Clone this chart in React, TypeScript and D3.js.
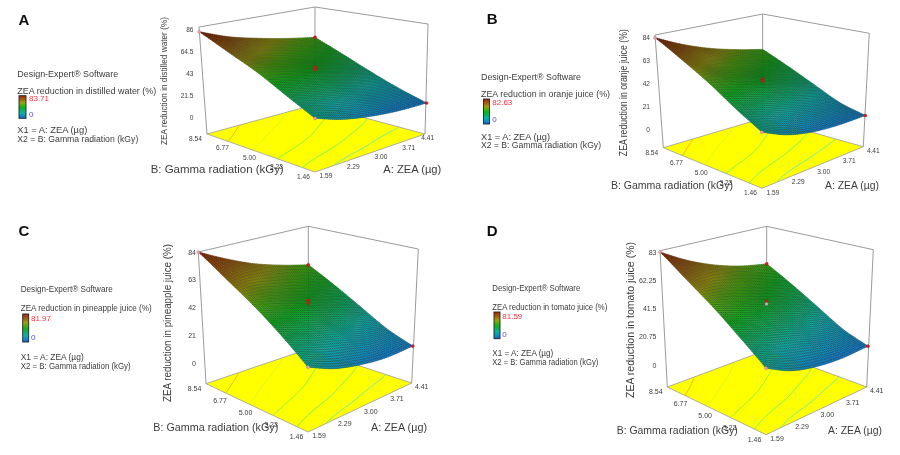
import React, { useMemo } from "react";
import * as d3 from "d3";

// ---- data ----
const aTicks = [1.59, 2.29, 3.0, 3.71, 4.41];
const bTicks = [1.46, 3.23, 5.0, 6.77, 8.54];

const zTicksA = ["0", "21.5", "43", "64.5", "86"];
const zTicksB = ["0", "21", "42", "63", "84"];
const zTicksC = ["0", "21", "42", "63", "84"];
const zTicksD = ["0", "20.75", "41.5", "62.25", "83"];

// rows: B = 1.46 ... 8.54, columns: A = 1.59 ... 4.41
const surfaceA = [
  [18, 11, 7, 5, 5],
  [33, 28, 23, 17, 13.5],
  [50, 44, 38, 31, 24],
  [66, 57, 50, 43, 36],
  [84, 72, 63, 55, 48],
];
const surfaceB = [
  [18, 10, 6, 5, 6],
  [32, 26, 21, 16, 12],
  [49, 43, 37, 30, 23],
  [66, 56, 49, 42, 35],
  [84, 72, 62, 54, 47],
];
const surfaceC = [
  [18, 11, 7, 5, 6],
  [34, 28, 23, 17, 13],
  [50, 44, 38, 31, 24],
  [66, 57, 50, 43, 36],
  [84, 73, 63, 55, 48],
];
const surfaceD = [
  [18, 10, 6, 4.5, 5.5],
  [33, 27, 22, 16, 12],
  [49, 43, 37, 30, 23],
  [65, 56, 49, 42, 35],
  [83, 71, 61, 53, 47],
];

// [A, B, response, above surface?]
const pointsA: [number, number, number, boolean][] = [
  [1.59, 8.54, 84, false], [4.41, 8.54, 48, true], [3.0, 5.0, 43, true], [3.0, 5.0, 41, true], [4.41, 1.46, 5, true], [1.59, 1.46, 18, false],
];
const pointsB: [number, number, number, boolean][] = [
  [1.59, 8.54, 84, false], [3.0, 5.0, 42, true], [3.0, 5.0, 40, true], [4.41, 1.46, 6, true], [1.59, 1.46, 18, false],
];
const pointsC: [number, number, number, boolean][] = [
  [1.59, 8.54, 84, false], [4.41, 8.54, 48, true], [3.0, 5.0, 43, true], [3.0, 5.0, 41, true], [4.41, 1.46, 6, true], [1.59, 1.46, 18, false],
];
const pointsD: [number, number, number, boolean][] = [
  [1.59, 8.54, 83, false], [4.41, 8.54, 47, true], [3.0, 5.0, 42, true], [3.0, 5.0, 40, false], [4.41, 1.46, 5.5, true], [1.59, 1.46, 18, false],
];

const contourLevels = [13, 25, 40, 55, 70];
const contourColors = ["#5fe8b8", "#62f070", "#74f050", "#d6f02a", "#f2a020"];

const designLabel = "Design-Expert® Software";
const x1Label = "X1 = A: ZEA (µg)";
const x2Label = "X2 = B: Gamma radiation (kGy)";
const aTitle = "A: ZEA (µg)";
const bTitle = "B: Gamma radiation (kGy)";

// ---- colours ----
const rampZ = [0, 10, 20, 30, 40, 50, 58, 70, 84];
const rampStops = ["#1060d0", "#1090c0", "#10b0a8", "#10b060", "#10b020", "#50b010", "#a0a010", "#a06010", "#a02808"];

// ---- panel layout (pixels) ----
type Corner = { xf: number; yf: number; x0: number; y0: number; xt: number; yt: number; bt: number; bx: number };
const corner = (xf: number, yf: number, x0: number, y0: number, xt: number, yt: number, bt: number, bx: number = xt): Corner =>
  ({ xf, yf, x0, y0, xt, yt, bt, bx });

const panels = [
  {
    letter: "A", lx: 18.5, ly: 25, grid: surfaceA, points: pointsA, zTicks: zTicksA, zMax: 86, maxLabel: "83.71",
    legendTitle: "ZEA reduction in distilled water (%)", zTitle: "ZEA reduction in distilled water (%)",
    left: corner(207, 134, 205.7, 117.3, 199, 29.7, 27),
    right: corner(425, 134, 426.5, 108, 428, 22, 24),
    back: corner(315, 104.5, 315, 82, 315, 2, 7),
    front: corner(315, 172, 315, 140, 315, 36.8, 0),
    tickSize: 6.6, lastADx: 2.7,
    leg: { x: 17.3, y: [74.3, 90.7, 130.3, 139], w: [101, 139, 70, 121], bar: [19, 95.7, 7, 22.6], valX: 29, valY: [98.7, 114.7] },
    ttl: { by: 168.5, bx: 150.7, bw: 133, ax: 383.3, aw: 58, size: 11 },
    zt: { x: 163.5, y: 81, len: 128, size: 9 },
    tzRight: 193.5,
  },
  {
    letter: "B", lx: 486.7, ly: 24, grid: surfaceB, points: pointsB, zTicks: zTicksB, zMax: 84, maxLabel: "82.63",
    legendTitle: "ZEA reduction in oranje juice (%)", zTitle: "ZEA reduction in oranje juice (%)",
    left: corner(663.3, 147.7, 662, 129.7, 655, 37.7, 35),
    right: corner(863.3, 146.7, 865, 122, 869.3, 31, 33.3),
    back: corner(762.7, 118.3, 762.7, 95, 762.7, 13.5, 14),
    front: corner(762, 188.3, 762, 155.7, 762, 46.5, 0),
    tickSize: 6.6, lastADx: 10,
    leg: { x: 481, y: [76.7, 94.3, 136.7, 145.3], w: [100, 129, 69, 120], bar: [483.5, 99, 6, 25], valX: 492.3, valY: [102.7, 119.3] },
    ttl: { by: 184.7, bx: 611, bw: 122, ax: 825, aw: 54, size: 11 },
    zt: { x: 623.3, y: 92.7, len: 127, size: 10 },
    tzRight: 650,
  },
  {
    letter: "C", lx: 18.5, ly: 236, grid: surfaceC, points: pointsC, zTicks: zTicksC, zMax: 84, maxLabel: "81.97",
    legendTitle: "ZEA reduction in pineapple juice (%)", zTitle: "ZEA reduction in pineapple juice (%)",
    left: corner(206, 383.7, 204.5, 363, 198.3, 252, 252),
    right: corner(411.7, 383, 412.3, 354, 418.3, 243, 249),
    back: corner(308.3, 349, 308.3, 320, 308.3, 223.4, 226.3),
    front: corner(308, 432, 308, 396, 308, 261.6, 0),
    tickSize: 7, lastADx: 10,
    leg: { x: 20.7, y: [289, 308.3, 356.7, 366.3], w: [92, 131, 63, 110], bar: [22.7, 314, 6, 28], valX: 31, valY: [318.3, 337] },
    ttl: { by: 427.3, bx: 153.3, bw: 125, ax: 371, aw: 56, size: 11.5 },
    zt: { x: 167, y: 323, len: 158, size: 11.5 },
    tzRight: 196,
  },
  {
    letter: "D", lx: 486.7, ly: 236, grid: surfaceD, points: pointsD, zTicks: zTicksD, zMax: 83, maxLabel: "81.59",
    legendTitle: "ZEA reduction in tomato juice (%)", zTitle: "ZEA reduction in tomato juice (%)",
    left: corner(667.3, 387, 666, 365, 660, 252, 250.7),
    right: corner(866.7, 387, 867.5, 353.5, 873.3, 243, 249.7),
    back: corner(766.7, 350, 766.7, 318, 766.7, 222.5, 226.3),
    front: corner(766, 434.7, 766, 397, 766, 264, 0),
    tickSize: 7, lastADx: 10,
    leg: { x: 492.3, y: [288, 306.7, 353, 362], w: [88, 115, 61, 106], bar: [494, 312, 6, 26.7], valX: 502.3, valY: [316.3, 334.3] },
    ttl: { by: 430.3, bx: 616.7, bw: 121, ax: 828, aw: 54, size: 11.5 },
    zt: { x: 630, y: 320, len: 156, size: 11.5 },
    tzRight: 656.5,
  },
];

type Panel = (typeof panels)[number];

const FONT = "'Liberation Sans', Arial, sans-serif";
const N = 56;

const scaleU = d3.scaleLinear().domain([aTicks[0], aTicks[4]]).range([0, 1]);
const scaleV = d3.scaleLinear().domain([bTicks[0], bTicks[4]]).range([0, 1]);

function catmull(vals: number[], t: number) {
  const s = Math.min(t, 0.99999) * (vals.length - 1);
  const i = Math.floor(s);
  const f = s - i;
  const p1 = vals[i];
  const p2 = vals[i + 1];
  const p0 = i > 0 ? vals[i - 1] : 2 * p1 - p2;
  const p3 = i + 2 < vals.length ? vals[i + 2] : 2 * p2 - p1;
  return 0.5 * (2 * p1 + (p2 - p0) * f + (2 * p0 - 5 * p1 + 4 * p2 - p3) * f * f + (3 * p1 - p0 - 3 * p2 + p3) * f * f * f);
}
const sample = (grid: number[][], u: number, v: number) => catmull(grid.map((row) => catmull(row, u)), v);

function bilerp(p: Panel, u: number, v: number, f: (c: Corner) => number) {
  return (1 - v) * ((1 - u) * f(p.front) + u * f(p.right)) + v * ((1 - u) * f(p.left) + u * f(p.back));
}
function floorXY(p: Panel, u: number, v: number): [number, number] {
  return [bilerp(p, u, v, (c) => c.xf), bilerp(p, u, v, (c) => c.yf)];
}
function spaceXY(p: Panel, u: number, v: number, z: number): [number, number] {
  const fx = (c: Corner) => d3.scaleLinear().domain([0, p.zMax]).range([c.x0, c.xt])(z);
  const fy = (c: Corner) => d3.scaleLinear().domain([0, p.zMax]).range([c.y0, c.yt])(z);
  return [bilerp(p, u, v, fx), bilerp(p, u, v, fy)];
}

const colorScale = d3.scaleLinear<string>().domain(rampZ).range(rampStops).clamp(true);

function PanelChart({ p, idx }: { p: Panel; idx: number }) {
  const mesh = useMemo(() => {
    const pts: [number, number, number][][] = d3.range(N + 1).map((j) =>
      d3.range(N + 1).map((i) => {
        const z = sample(p.grid, i / N, j / N);
        const [x, y] = spaceXY(p, i / N, j / N, z);
        return [x, y, z] as [number, number, number];
      })
    );
    const cells: { d: string; c: string }[] = [];
    for (let j = N - 1; j >= 0; j--) {
      for (let i = N - 1; i >= 0; i--) {
        const q = [pts[j][i], pts[j][i + 1], pts[j + 1][i + 1], pts[j + 1][i]];
        cells.push({
          d: "M" + q.map((a) => a[0].toFixed(2) + "," + a[1].toFixed(2)).join("L") + "Z",
          c: colorScale(d3.mean(q, (a) => a[2]) as number),
        });
      }
    }
    const line = d3.line<[number, number, number]>().x((a) => a[0]).y((a) => a[1]);
    let lines = "";
    pts.forEach((row) => (lines += line(row)));
    d3.range(N + 1).forEach((i) => (lines += line(pts.map((r) => r[i]))));
    return { cells, lines };
  }, [p]);

  const contourPaths = useMemo(() => {
    const M = 81;
    const values = new Array(M * M);
    for (let j = 0; j < M; j++) for (let i = 0; i < M; i++) values[j * M + i] = sample(p.grid, i / (M - 1), j / (M - 1));
    const gen = d3.contours().size([M, M]).thresholds(contourLevels);
    return gen(values).map((mp, k) => {
      let d = "";
      mp.coordinates.forEach((poly) =>
        poly.forEach((ring) => {
          let prevEdge = true;
          ring.forEach((pt: number[]) => {
            const edge = pt[0] <= 0.6 || pt[0] >= M - 0.6 || pt[1] <= 0.6 || pt[1] >= M - 0.6;
            const u = Math.max(0, Math.min(1, (pt[0] - 0.5) / (M - 1)));
            const v = Math.max(0, Math.min(1, (pt[1] - 0.5) / (M - 1)));
            const [x, y] = floorXY(p, u, v);
            d += prevEdge ? `M${x.toFixed(2)},${y.toFixed(2)}` : `L${x.toFixed(2)},${y.toFixed(2)}`;
            prevEdge = edge;
          });
        })
      );
      return { d, c: contourColors[k] };
    });
  }, [p]);

  const floorPath = d3.line()([
    [p.left.xf, p.left.yf], [p.back.xf, p.back.yf], [p.right.xf, p.right.yf], [p.front.xf, p.front.yf],
  ]) + "Z";

  const zLabelY = d3.scaleLinear().domain([0, p.zTicks.length - 1]).range([p.left.y0, p.left.yt]);
  const gradId = "ramp" + idx;
  const textFill = "#3c3c3c";
  const [bx, by, bw, bh] = p.leg.bar;

  return (
    <g fontFamily={FONT}>
      <text x={p.lx} y={p.ly} fontSize={15} fontWeight="bold" fill="#111">{p.letter}</text>

      {/* legend */}
      <text x={p.leg.x} y={p.leg.y[0]} fontSize={8.6} fill={textFill} dominantBaseline="central" textLength={p.leg.w[0]} lengthAdjust="spacingAndGlyphs">{designLabel}</text>
      <text x={p.leg.x} y={p.leg.y[1]} fontSize={8.6} fill={textFill} dominantBaseline="central" textLength={p.leg.w[1]} lengthAdjust="spacingAndGlyphs">{p.legendTitle}</text>
      <text x={p.leg.x} y={p.leg.y[2]} fontSize={8.6} fill={textFill} dominantBaseline="central" textLength={p.leg.w[2]} lengthAdjust="spacingAndGlyphs">{x1Label}</text>
      <text x={p.leg.x} y={p.leg.y[3]} fontSize={8.6} fill={textFill} dominantBaseline="central" textLength={p.leg.w[3]} lengthAdjust="spacingAndGlyphs">{x2Label}</text>
      <defs>
        <linearGradient id={gradId} x1="0" y1="1" x2="0" y2="0">
          {rampStops.map((c, i) => (
            <stop key={i} offset={rampZ[i] / 84} stopColor={c} />
          ))}
        </linearGradient>
      </defs>
      <rect x={bx} y={by} width={bw} height={bh} fill={`url(#${gradId})`} stroke="#222" strokeWidth={0.9} />
      <text x={p.leg.valX} y={p.leg.valY[0]} fontSize={8} fill="#ff3040" dominantBaseline="central">{p.maxLabel}</text>
      <text x={p.leg.valX} y={p.leg.valY[1]} fontSize={8} fill="#5050ff" dominantBaseline="central">0</text>

      {/* box */}
      <path d={floorPath} fill="#ffff00" stroke="#9a9a9a" strokeWidth={0.8} />
      {contourPaths.map((c, i) => (
        <path key={i} d={c.d} fill="none" stroke={c.c} strokeWidth={0.9} />
      ))}
      <path
        d={d3.line()([
          [p.left.xf, p.left.yf], [p.left.bx, p.left.bt], [p.back.bx, p.back.bt], [p.right.bx, p.right.bt], [p.right.xf, p.right.yf],
        ]) as string}
        fill="none" stroke="#8e8e8e" strokeWidth={0.9}
      />
      <line x1={p.back.bx} y1={p.back.bt} x2={p.back.xf} y2={p.back.yf} stroke="#8e8e8e" strokeWidth={0.9} />

      {/* surface */}
      {mesh.cells.map((c, i) => (
        <path key={i} d={c.d} fill={c.c} stroke={c.c} strokeWidth={0.3} />
      ))}
      <path d={mesh.lines} fill="none" stroke="#000" strokeOpacity={0.45} strokeWidth={0.55} />

      {/* design points */}
      {p.points.map((pt, i) => {
        const [x, y] = spaceXY(p, scaleU(pt[0]), scaleV(pt[1]), pt[2]);
        return (
          <circle key={i} cx={x} cy={y} r={1.6} fill={pt[3] ? "#e01414" : "#e8a0a8"} stroke={pt[3] ? "#901010" : "#a07078"} strokeWidth={0.3} />
        );
      })}

      {/* ticks */}
      {p.zTicks.map((t, i) => (
        <text key={t} x={p.tzRight} y={zLabelY(i)} fontSize={p.tickSize} textAnchor="end" fill={textFill} dominantBaseline="central">{t}</text>
      ))}
      {aTicks.map((t, i) => {
        const [x, y] = floorXY(p, scaleU(t), 0);
        return (
          <text key={t} x={x + (i === 4 ? p.lastADx : 11)} y={y + 3.7} fontSize={p.tickSize} textAnchor="middle" fill={textFill} dominantBaseline="central">{t.toFixed(2)}</text>
        );
      })}
      {bTicks.map((t) => {
        const [x, y] = floorXY(p, 0, scaleV(t));
        return (
          <text key={t} x={x - 11.5} y={y + 4.3} fontSize={p.tickSize} textAnchor="middle" fill={textFill} dominantBaseline="central">{t.toFixed(2)}</text>
        );
      })}

      {/* titles */}
      <text x={p.ttl.bx} y={p.ttl.by} fontSize={p.ttl.size} fill={textFill} dominantBaseline="central" textLength={p.ttl.bw} lengthAdjust="spacingAndGlyphs">{bTitle}</text>
      <text x={p.ttl.ax} y={p.ttl.by} fontSize={p.ttl.size} fill={textFill} dominantBaseline="central" textLength={p.ttl.aw} lengthAdjust="spacingAndGlyphs">{aTitle}</text>
      <text
        transform={`translate(${p.zt.x},${p.zt.y}) rotate(-90)`}
        fontSize={p.zt.size} fill={textFill} textAnchor="middle" dominantBaseline="central"
        textLength={p.zt.len} lengthAdjust="spacingAndGlyphs"
      >{p.zTitle}</text>
    </g>
  );
}

export default function App() {
  return (
    <svg width={900} height={455} viewBox="0 0 900 455" style={{ position: "absolute", left: 0, top: 0, display: "block", background: "#fff" }}>
      <defs>
        <filter id="soft" x="0" y="0" width="100%" height="100%" filterUnits="objectBoundingBox">
          <feGaussianBlur stdDeviation="0.35" />
        </filter>
      </defs>
      <g filter="url(#soft)">
        <rect x={0} y={0} width={900} height={455} fill="#fff" />
        {panels.map((p, i) => (
          <PanelChart key={p.letter} p={p} idx={i} />
        ))}
      </g>
    </svg>
  );
}
